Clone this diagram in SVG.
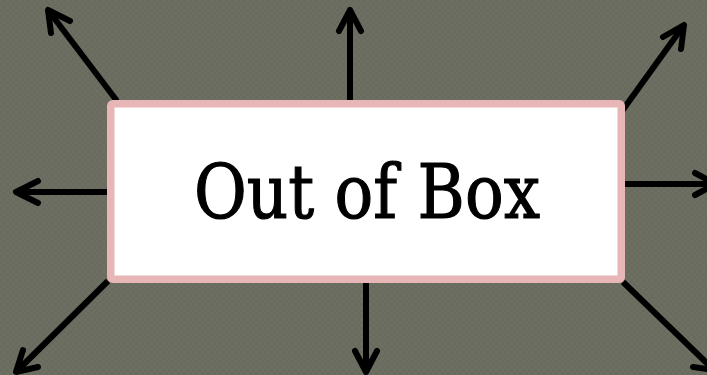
<svg xmlns="http://www.w3.org/2000/svg" width="707" height="375" viewBox="0 0 707 375">
  <defs>
    <pattern id="bgtex" width="6" height="6" patternUnits="userSpaceOnUse">
      <rect width="6" height="6" fill="#6a6b5f"/>
      <rect width="3" height="3" fill="#6e6f63"/>
      <rect x="3" y="3" width="3" height="3" fill="#6e6f63"/>
    </pattern>
    <style>
      .arr { fill: none; stroke: #000; stroke-width: 6; stroke-linecap: round; stroke-linejoin: round; }
      .ln { stroke-linecap: butt; }
      .box { fill: #ffffff; stroke: #e8b6b6; stroke-width: 7.5; }
      .lbl { font-family: "DejaVu Serif", "Liberation Serif", serif; font-size: 74px; fill: #000; stroke: #000; stroke-width: 1.2; }
    </style>
  </defs>
  <rect width="707" height="375" fill="url(#bgtex)"/>
  <g id="connectors">
    <path class="arr ln" d="M117,101 L48,10"/>
    <path class="arr" d="M70,21 L48,10 L51,33"/>
    <path class="arr ln" d="M350,103 L350,10"/>
    <path class="arr" d="M339,31 L350,10 L361,31"/>
    <path class="arr ln" d="M617,118 L684,25"/>
    <path class="arr" d="M663,37 L684,25 L681,49"/>
    <path class="arr ln" d="M110,192 L16,192"/>
    <path class="arr" d="M38,181 L16,192 L38,203"/>
    <path class="arr ln" d="M622,184 L716,184"/>
    <path class="arr" d="M695,173 L716,184 L695,195"/>
    <path class="arr ln" d="M108,281 L16,372"/>
    <path class="arr" d="M23,350 L16,372 L38,367"/>
    <path class="arr ln" d="M366,281 L366,372"/>
    <path class="arr" d="M355,351 L366,372 L377,351"/>
    <path class="arr ln" d="M623,282 L714,370"/>
    <path class="arr" d="M693,367 L714,370 L710,348"/>
  </g>
  <g id="box">
    <rect class="box" x="110.75" y="103.75" width="510.5" height="175.5" rx="2"/>
    <text class="lbl" x="367" y="218" text-anchor="middle" textLength="346" lengthAdjust="spacingAndGlyphs">Out of Box</text>
  </g>
</svg>
